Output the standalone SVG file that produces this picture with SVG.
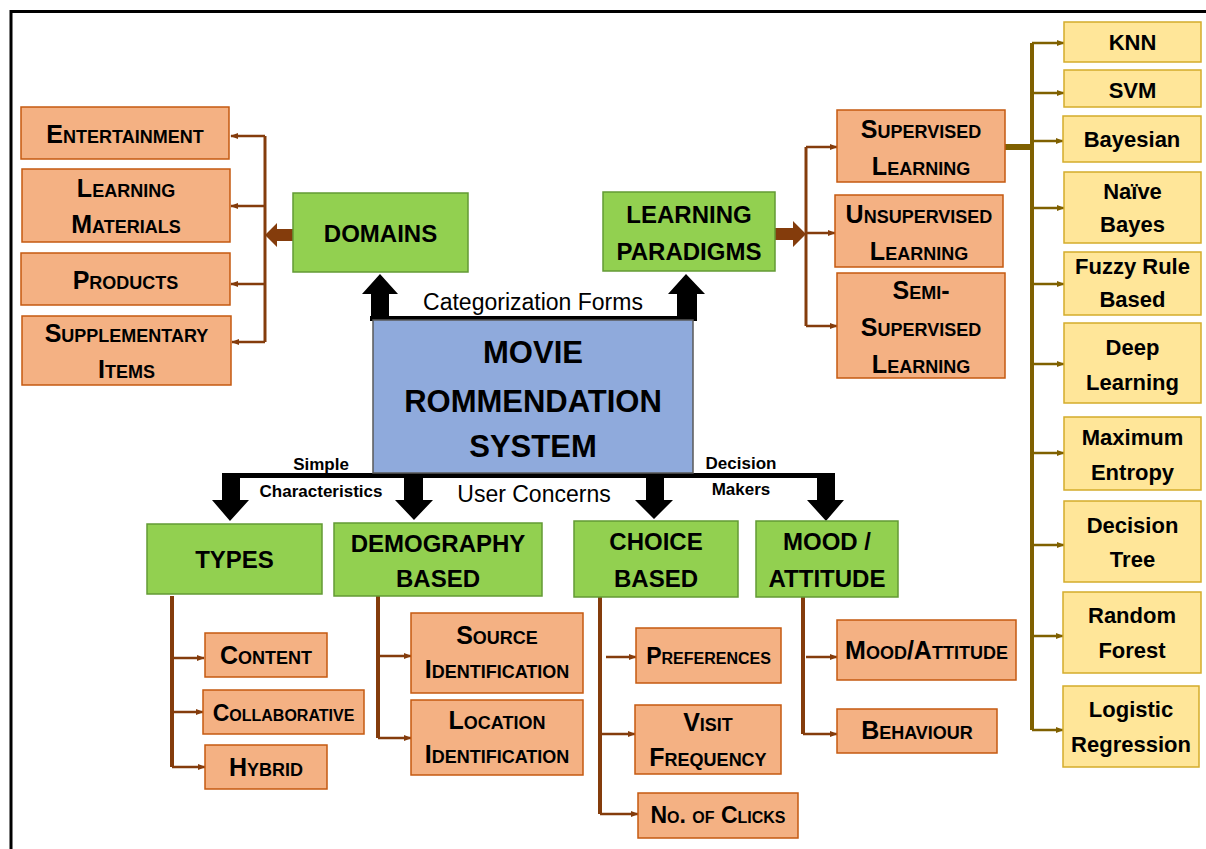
<svg xmlns="http://www.w3.org/2000/svg" width="1206" height="849" viewBox="0 0 1206 849">
<style>
.s rect{fill:#F4B183;stroke:#C55A11;stroke-width:1.5}
.g rect{fill:#92D050;stroke:#639A35;stroke-width:1.5}
.y rect{fill:#FFE699;stroke:#D4AC2B;stroke-width:1.5}
.c rect{fill:#8FAADC;stroke:#5A5A5A;stroke-width:1.5}
text{font-family:"Liberation Sans",Arial,sans-serif;font-weight:bold;text-anchor:middle;fill:#000}
.s text{font-size:25px;font-variant:small-caps}
.s text.sm{font-size:23px}
.g text{font-size:24px}
.y text{font-size:22px}
.c text{font-size:31px}
.lbl{font-size:17px}
.lbl2{font-size:23px;font-weight:normal}
.br{stroke:#843C0C;stroke-width:2.5;fill:none;marker-end:url(#ab)}
.bv{stroke:#843C0C;stroke-width:4;fill:none}
.ol{stroke:#7F6000;stroke-width:2.5;fill:none;marker-end:url(#ao)}
.blk{fill:#000}
</style>
<defs>
<marker id="ab" viewBox="0 0 10 10" refX="9" refY="5" markerWidth="8" markerHeight="8" markerUnits="userSpaceOnUse" orient="auto"><path d="M0,1 L10,5 L0,9 z" fill="#843C0C"/></marker>
<marker id="ao" viewBox="0 0 10 10" refX="9" refY="5" markerWidth="8" markerHeight="8" markerUnits="userSpaceOnUse" orient="auto"><path d="M0,1 L10,5 L0,9 z" fill="#7F6000"/></marker>
</defs>
<rect width="1206" height="849" fill="#fff"/>
<path d="M11,849 V11.5 H1206" fill="none" stroke="#000" stroke-width="3"/>

<g id="connectors">
  <path class="bv" d="M265,136 V342" style="stroke-width:3"/>
  <path class="br" d="M265,136 H231"/>
  <path class="br" d="M265,206 H231"/>
  <path class="br" d="M265,284 H231"/>
  <path class="br" d="M265,342 H232"/>
  <polygon fill="#843C0C" points="293,229 277,229 277,223 265,235 277,247 277,241 293,241"/>
  <polygon fill="#843C0C" points="775,228 793,228 793,221 806,234 793,247 793,240 775,240"/>
  <path class="bv" d="M806,147 V326" style="stroke-width:3"/>
  <path class="br" d="M806,147 H837"/>
  <path class="br" d="M806,233 H835"/>
  <path class="br" d="M806,326 H837"/>
  <path d="M1005,147 H1032" stroke="#7F6000" stroke-width="6"/>
  <path d="M1032,43 V730" stroke="#7F6000" stroke-width="4"/>
  <path class="ol" d="M1032,43 H1064"/>
  <path class="ol" d="M1032,93 H1064"/>
  <path class="ol" d="M1032,141 H1063"/>
  <path class="ol" d="M1032,208 H1064"/>
  <path class="ol" d="M1032,284 H1064"/>
  <path class="ol" d="M1032,364 H1064"/>
  <path class="ol" d="M1032,453 H1064"/>
  <path class="ol" d="M1032,545 H1064"/>
  <path class="ol" d="M1032,636 H1063"/>
  <path class="ol" d="M1032,730 H1063"/>
  <rect class="blk" x="370" y="316" width="327" height="5"/>
  <polygon class="blk" points="371,318 371,294 362,294 380,274 398,294 389,294 389,318"/>
  <polygon class="blk" points="677,318 677,294 668,294 686,274 705,294 697,294 697,318"/>
  <rect class="blk" x="222" y="473" width="613" height="5"/>
  <polygon class="blk" points="222,475 222,500 212,500 230,521 249,500 240,500 240,475"/>
  <polygon class="blk" points="404,475 404,500 395,500 414,520 433,500 423,500 423,475"/>
  <polygon class="blk" points="646,475 646,500 635,500 654,519 673,500 664,500 664,475"/>
  <polygon class="blk" points="817,475 817,500 807,500 826,521 844,500 835,500 835,475"/>
  <path class="bv" d="M172,596 V767"/>
  <path class="br" d="M172,658 H204"/>
  <path class="br" d="M172,712 H203"/>
  <path class="br" d="M172,767 H205"/>
  <path class="bv" d="M378,596 V738"/>
  <path class="br" d="M378,656 H411"/>
  <path class="br" d="M378,738 H411"/>
  <path class="bv" d="M600,597 V814"/>
  <path class="br" d="M606,657 H636"/>
  <path class="br" d="M600,734 H635"/>
  <path class="br" d="M600,814 H638"/>
  <path class="bv" d="M803,597 V734"/>
  <path class="br" d="M806,657 H837"/>
  <path class="br" d="M803,734 H837"/>
  <text class="lbl2" x="533" y="310">Categorization Forms</text>
  <text class="lbl2" x="534" y="502">User Concerns</text>
  <text class="lbl" x="321" y="470">Simple</text>
  <text class="lbl" x="321" y="497">Characteristics</text>
  <text class="lbl" x="741" y="469">Decision</text>
  <text class="lbl" x="741" y="495">Makers</text>
</g>

<g id="center" class="c">
  <rect x="373" y="320" width="320" height="153"/>
  <text x="533" y="363">MOVIE</text>
  <text x="533" y="412">ROMMENDATION</text>
  <text x="533" y="457">SYSTEM</text>
</g>

<g id="domains" class="g"><rect x="293" y="193" width="175" height="79"/><text x="380.5" y="242">DOMAINS</text></g>
<g id="learning-paradigms" class="g"><rect x="603" y="192" width="172" height="79"/><text x="689" y="223">LEARNING</text><text x="689" y="260">PARADIGMS</text></g>
<g id="types" class="g"><rect x="147" y="524" width="175" height="70"/><text x="234.5" y="568">TYPES</text></g>
<g id="demography" class="g"><rect x="334" y="523" width="208" height="73"/><text x="438" y="552">DEMOGRAPHY</text><text x="438" y="587">BASED</text></g>
<g id="choice" class="g"><rect x="574" y="521" width="164" height="76"/><text x="656" y="550">CHOICE</text><text x="656" y="587">BASED</text></g>
<g id="mood" class="g"><rect x="756" y="521" width="142" height="76"/><text x="827" y="550">MOOD /</text><text x="827" y="587">ATTITUDE</text></g>

<g id="entertainment" class="s"><rect x="21" y="107" width="208" height="52"/><text x="125" y="143">Entertainment</text></g>
<g id="learning-materials" class="s"><rect x="22" y="169" width="208" height="73"/><text x="126" y="197">Learning</text><text x="126" y="233">Materials</text></g>
<g id="products" class="s"><rect x="21" y="253" width="209" height="52"/><text x="125.5" y="289">Products</text></g>
<g id="supplementary-items" class="s"><rect x="22" y="316" width="209" height="69"/><text x="126.5" y="342">Supplementary</text><text x="126.5" y="378">Items</text></g>

<g id="supervised" class="s"><rect x="837" y="110" width="168" height="72"/><text x="921" y="138">Supervised</text><text x="921" y="175">Learning</text></g>
<g id="unsupervised" class="s"><rect x="835" y="195" width="168" height="72"/><text x="919" y="223">Unsupervised</text><text x="919" y="260">Learning</text></g>
<g id="semi-supervised" class="s"><rect x="837" y="273" width="168" height="105"/><text x="921" y="299">Semi-</text><text x="921" y="336">Supervised</text><text x="921" y="373">Learning</text></g>

<g id="knn" class="y"><rect x="1064" y="22" width="137" height="40"/><text x="1132.5" y="50">KNN</text></g>
<g id="svm" class="y"><rect x="1064" y="70" width="137" height="37"/><text x="1132.5" y="98">SVM</text></g>
<g id="bayesian" class="y"><rect x="1063" y="116" width="138" height="46"/><text x="1132" y="147">Bayesian</text></g>
<g id="naive-bayes" class="y"><rect x="1064" y="172" width="137" height="71"/><text x="1132.5" y="199">Naïve</text><text x="1132.5" y="232">Bayes</text></g>
<g id="fuzzy" class="y"><rect x="1064" y="252" width="137" height="63"/><text x="1132.5" y="274">Fuzzy Rule</text><text x="1132.5" y="307">Based</text></g>
<g id="deep-learning" class="y"><rect x="1064" y="323" width="137" height="80"/><text x="1132.5" y="355">Deep</text><text x="1132.5" y="390">Learning</text></g>
<g id="max-entropy" class="y"><rect x="1064" y="417" width="137" height="73"/><text x="1132.5" y="445">Maximum</text><text x="1132.5" y="480">Entropy</text></g>
<g id="decision-tree" class="y"><rect x="1064" y="501" width="137" height="81"/><text x="1132.5" y="533">Decision</text><text x="1132.5" y="567">Tree</text></g>
<g id="random-forest" class="y"><rect x="1063" y="592" width="138" height="81"/><text x="1132" y="623">Random</text><text x="1132" y="658">Forest</text></g>
<g id="logistic" class="y"><rect x="1063" y="686" width="136" height="81"/><text x="1131" y="717">Logistic</text><text x="1131" y="752">Regression</text></g>

<g id="content" class="s"><rect x="205" y="633" width="122" height="44"/><text x="266" y="664">Content</text></g>
<g id="collaborative" class="s"><rect x="203" y="690" width="161" height="44"/><text class="sm" x="283.5" y="721">Collaborative</text></g>
<g id="hybrid" class="s"><rect x="205" y="745" width="122" height="44"/><text x="266" y="776">Hybrid</text></g>

<g id="source-id" class="s"><rect x="411" y="613" width="172" height="80"/><text x="497" y="644">Source</text><text x="497" y="678">Identification</text></g>
<g id="location-id" class="s"><rect x="411" y="700" width="172" height="75"/><text x="497" y="729">Location</text><text x="497" y="763">Identification</text></g>

<g id="preferences" class="s"><rect x="636" y="628" width="145" height="55"/><text class="sm" x="708.5" y="664">Preferences</text></g>
<g id="visit-frequency" class="s"><rect x="635" y="705" width="146" height="69"/><text x="708" y="731">Visit</text><text x="708" y="766">Frequency</text></g>
<g id="clicks" class="s"><rect x="638" y="793" width="160" height="45"/><text class="sm" x="718" y="823">No. of Clicks</text></g>

<g id="mood-attitude" class="s"><rect x="837" y="620" width="179" height="60"/><text x="926.5" y="659">Mood/Attitude</text></g>
<g id="behaviour" class="s"><rect x="837" y="709" width="160" height="44"/><text x="917" y="739">Behaviour</text></g>
</svg>
